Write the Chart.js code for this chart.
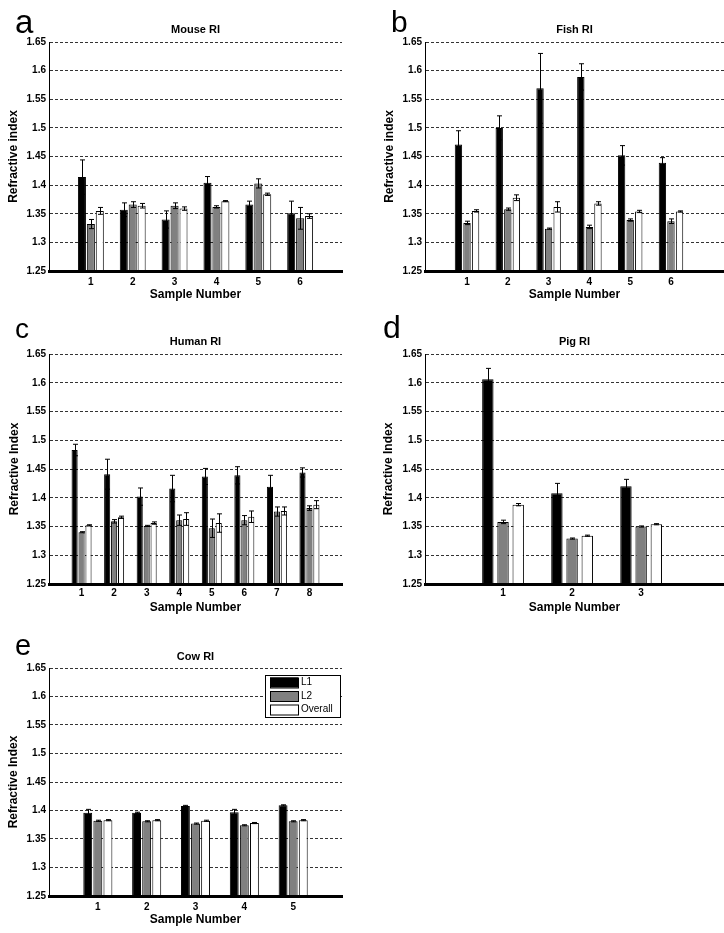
<!DOCTYPE html>
<html><head><meta charset="utf-8">
<script src="https://cdn.jsdelivr.net/npm/chart.js@4"></script>
<style>
html,body{margin:0;padding:0;background:#fff;}
body{width:724px;height:933px;position:relative;overflow:hidden;}
canvas{position:absolute;}
</style></head><body>
<canvas id="ca" width="362" height="305" style="left:0;top:0"></canvas>
<canvas id="cb" width="362" height="305" style="left:362px;top:0"></canvas>
<canvas id="cc" width="362" height="315" style="left:0;top:300px"></canvas>
<canvas id="cd" width="362" height="315" style="left:362px;top:300px"></canvas>
<canvas id="ce" width="362" height="318" style="left:0;top:615px"></canvas>
<script>
// ---- data ----
const seriesNames = ['L1', 'L2', 'Overall'];
const yTicks = [1.25, 1.3, 1.35, 1.4, 1.45, 1.5, 1.55, 1.6, 1.65];
const yTickLabels = ['1.25', '1.3', '1.35', '1.4', '1.45', '1.5', '1.55', '1.6', '1.65'];

const mouseSamples = [1, 2, 3, 4, 5, 6];
const mouseL1 = [1.414, 1.357, 1.340, 1.404, 1.366, 1.351];
const mouseL1Err = [0.030, 0.012, 0.015, 0.011, 0.006, 0.021];
const mouseL2 = [1.332, 1.366, 1.364, 1.362, 1.403, 1.342];
const mouseL2Err = [0.008, 0.005, 0.005, 0.002, 0.008, 0.019];
const mouseAll = [1.355, 1.364, 1.359, 1.372, 1.384, 1.346];
const mouseAllErr = [0.006, 0.004, 0.003, 0.001, 0.002, 0.004];

const fishSamples = [1, 2, 3, 4, 5, 6];
const fishL1 = [1.471, 1.500, 1.569, 1.589, 1.452, 1.439];
const fishL1Err = [0.024, 0.021, 0.061, 0.023, 0.017, 0.009];
const fishL2 = [1.334, 1.358, 1.324, 1.327, 1.339, 1.337];
const fishL2Err = [0.003, 0.002, 0.001, 0.003, 0.002, 0.004];
const fishAll = [1.355, 1.378, 1.362, 1.368, 1.354, 1.354];
const fishAllErr = [0.002, 0.005, 0.009, 0.003, 0.002, 0.001];

const humanSamples = [1, 2, 3, 4, 5, 6, 7, 8];
const humanL1 = [1.483, 1.441, 1.402, 1.416, 1.437, 1.439, 1.419, 1.444];
const humanL1Err = [0.010, 0.026, 0.015, 0.023, 0.014, 0.015, 0.020, 0.008];
const humanL2 = [1.340, 1.359, 1.351, 1.361, 1.347, 1.361, 1.376, 1.382];
const humanL2Err = [0.001, 0.003, 0.001, 0.009, 0.016, 0.008, 0.008, 0.004];
const humanAll = [1.352, 1.366, 1.356, 1.363, 1.356, 1.367, 1.377, 1.388];
const humanAllErr = [0.001, 0.002, 0.002, 0.011, 0.016, 0.010, 0.007, 0.007];

const pigSamples = [1, 2, 3];
const pigL1 = [1.606, 1.408, 1.420];
const pigL1Err = [0.019, 0.017, 0.012];
const pigL2 = [1.358, 1.329, 1.350];
const pigL2Err = [0.003, 0.001, 0.001];
const pigAll = [1.388, 1.334, 1.354];
const pigAllErr = [0.002, 0.001, 0.001];

const cowSamples = [1, 2, 3, 4, 5];
const cowL1 = [1.396, 1.396, 1.408, 1.397, 1.409];
const cowL1Err = [0.006, 0.001, 0.001, 0.005, 0.001];
const cowL2 = [1.382, 1.381, 1.377, 1.374, 1.381];
const cowL2Err = [0.001, 0.001, 0.001, 0.001, 0.001];
const cowAll = [1.383, 1.383, 1.382, 1.378, 1.383];
const cowAllErr = [0.001, 0.001, 0.001, 0.001, 0.001];

// ---- drawing ----
const F = "'Liberation Sans', Arial, Helvetica, sans-serif";
const fills = ['#000000', '#808080', '#ffffff'];

const errorBarPlugin = {
  id: 'errbars',
  afterDatasetsDraw(chart) {
    const ctx = chart.ctx, ys = chart.scales.y;
    chart.data.datasets.forEach((ds, di) => {
      const meta = chart.getDatasetMeta(di);
      meta.data.forEach((el, j) => {
        const v = ds.data[j].y, e = ds.errors[j];
        const x = Math.round(el.x) + 0.5;
        const yt = ys.getPixelForValue(v + e), yb = ys.getPixelForValue(v - e);
        ctx.save();
        ctx.strokeStyle = '#000'; ctx.lineWidth = 1;
        ctx.beginPath();
        ctx.moveTo(x, yb); ctx.lineTo(x, yt);
        ctx.moveTo(x - 2.5, yt); ctx.lineTo(x + 2.5, yt);
        ctx.moveTo(x - 2.5, yb); ctx.lineTo(x + 2.5, yb);
        ctx.stroke();
        ctx.restore();
      });
    });
  }
};

function makePanel(id, p) {
  const c = document.getElementById(id);
  const W = c.width, H = c.height, a = p.area;
  const titleTop = p.titleCenter - 6.6;
  const mk = (i, vals, errs) => ({
    label: seriesNames[i],
    data: p.samples.map((s, k) => ({x: s, y: vals[k]})),
    errors: errs,
    backgroundColor: fills[i], borderColor: '#000', borderWidth: 1,
    categoryPercentage: p.cat, barPercentage: p.bar
  });
  const deco = {
    id: 'deco',
    afterDraw(chart) {
      const ctx = chart.ctx;
      ctx.save();
      ctx.fillStyle = '#000';
      ctx.font = p.letterSize + 'px ' + F;
      ctx.textAlign = 'left'; ctx.textBaseline = 'alphabetic';
      ctx.fillText(p.letter, p.letterX, p.letterY);
      if (p.legend) {
        const L = p.legend;
        ctx.fillStyle = '#fff';
        ctx.fillRect(L.x0, L.y0, L.x1 - L.x0, L.y1 - L.y0);
        ctx.strokeStyle = '#000'; ctx.lineWidth = 1;
        ctx.strokeRect(L.x0 + 0.5, L.y0 + 0.5, L.x1 - L.x0, L.y1 - L.y0);
        ctx.font = '10px ' + F; ctx.textBaseline = 'middle';
        chart.data.datasets.forEach((ds, i) => {
          const yc = L.rows[i];
          ctx.fillStyle = ds.backgroundColor;
          ctx.fillRect(L.sx, yc - 5, L.sw, 10);
          ctx.strokeRect(L.sx + 0.5, yc - 5 + 0.5, L.sw, 10);
          ctx.fillStyle = '#000';
          ctx.fillText(ds.label, L.tx, yc);
        });
      }
      ctx.restore();
    }
  };
  return new Chart(c, {
    type: 'bar',
    data: { datasets: [mk(0, p.l1, p.l1e), mk(1, p.l2, p.l2e), mk(2, p.all, p.alle)] },
    options: {
      responsive: false, animation: false, devicePixelRatio: 1,
      layout: { padding: { left: 0, top: titleTop, right: W - a.R, bottom: H - a.B - 31 } },
      plugins: {
        legend: { display: false }, tooltip: { enabled: false },
        title: { display: true, text: p.title, fullSize: false, color: '#000',
          font: { family: F, size: 11, weight: 'bold', lineHeight: 1.2 },
          padding: { top: 0, bottom: a.T - titleTop - 13.2 } }
      },
      scales: {
        x: {
          type: 'linear', min: p.xMin, max: p.xMax, offset: false,
          afterBuildTicks: s => { s.ticks = p.samples.map(v => ({value: v})); },
          ticks: { autoSkip: false, maxRotation: 0, callback: v => String(v), color: '#000',
            font: { family: F, size: 10, weight: 'bold' }, padding: p.xTickPad },
          grid: { display: false, drawTicks: false },
          border: { display: true, color: '#000', width: 3, z: 1 },
          title: { display: true, text: 'Sample Number', color: '#000',
            font: { family: F, size: 12, weight: 'bold', lineHeight: 1.2 }, padding: { top: 0, bottom: 0 } },
          afterFit: s => { s.height = 31; }
        },
        y: {
          type: 'linear', min: 1.25, max: 1.65, beginAtZero: false,
          afterBuildTicks: s => { s.ticks = yTicks.map(v => ({value: v})); },
          ticks: { callback: (v) => yTickLabels[yTicks.indexOf(v)], color: '#000',
            font: { family: F, size: 10, weight: 'bold' }, padding: 3 },
          grid: { color: '#333', lineWidth: 1, drawTicks: false },
          border: { display: true, color: '#000', width: 1, dash: [3, 2] },
          title: { display: true, text: p.yLabel, color: '#000',
            font: { family: F, size: 12, weight: 'bold', lineHeight: 1.2 }, padding: { top: p.yTitlePad, bottom: 0 } },
          afterFit: s => { s.width = a.L; }
        }
      }
    },
    plugins: [errorBarPlugin, deco]
  });
}

makePanel('ca', { letter: 'a', letterSize: 33, letterX: 15, letterY: 33, title: 'Mouse RI',
  yLabel: 'Refractive index', samples: mouseSamples,
  l1: mouseL1, l1e: mouseL1Err, l2: mouseL2, l2e: mouseL2Err, all: mouseAll, alle: mouseAllErr,
  xMin: 0, xMax: 7, area: {L: 49, T: 42, R: 342, B: 271}, titleCenter: 30, yTitlePad: 6.6,
  xTickPad: 5, cat: 0.64, bar: 0.9 });
makePanel('cb', { letter: 'b', letterSize: 30, letterX: 29, letterY: 32, title: 'Fish RI',
  yLabel: 'Refractive index', samples: fishSamples,
  l1: fishL1, l1e: fishL1Err, l2: fishL2, l2e: fishL2Err, all: fishAll, alle: fishAllErr,
  xMin: -0.03, xMax: 7.3, area: {L: 63, T: 42, R: 362, B: 271}, titleCenter: 30, yTitlePad: 20.4,
  xTickPad: 5, cat: 0.63, bar: 0.86 });
makePanel('cc', { letter: 'c', letterSize: 28, letterX: 15, letterY: 38, title: 'Human RI',
  yLabel: 'Refractive Index', samples: humanSamples,
  l1: humanL1, l1e: humanL1Err, l2: humanL2, l2e: humanL2Err, all: humanAll, alle: humanAllErr,
  xMin: 0, xMax: 9, area: {L: 49, T: 54, R: 342, B: 284}, titleCenter: 41.7, yTitlePad: 7.8,
  xTickPad: 3, cat: 0.64, bar: 0.88 });
makePanel('cd', { letter: 'd', letterSize: 32, letterX: 21, letterY: 38, title: 'Pig RI',
  yLabel: 'Refractive Index', samples: pigSamples,
  l1: pigL1, l1e: pigL1Err, l2: pigL2, l2e: pigL2Err, all: pigAll, alle: pigAllErr,
  xMin: -0.13, xMax: 4.2, area: {L: 63, T: 54, R: 362, B: 284}, titleCenter: 41.7, yTitlePad: 19.8,
  xTickPad: 3, cat: 0.66, bar: 0.75 });
makePanel('ce', { letter: 'e', letterSize: 29, letterX: 15, letterY: 40, title: 'Cow RI',
  yLabel: 'Refractive Index', samples: cowSamples,
  l1: cowL1, l1e: cowL1Err, l2: cowL2, l2e: cowL2Err, all: cowAll, alle: cowAllErr,
  xMin: 0, xMax: 6, area: {L: 49, T: 53, R: 342, B: 281}, titleCenter: 42, yTitlePad: 6.8,
  xTickPad: 5, cat: 0.62, bar: 0.88,
  legend: { x0: 265, y0: 60, x1: 340, y1: 102, rows: [67.5, 81, 94.5], sx: 270, sw: 28, tx: 301 } });
</script>
</body></html>
